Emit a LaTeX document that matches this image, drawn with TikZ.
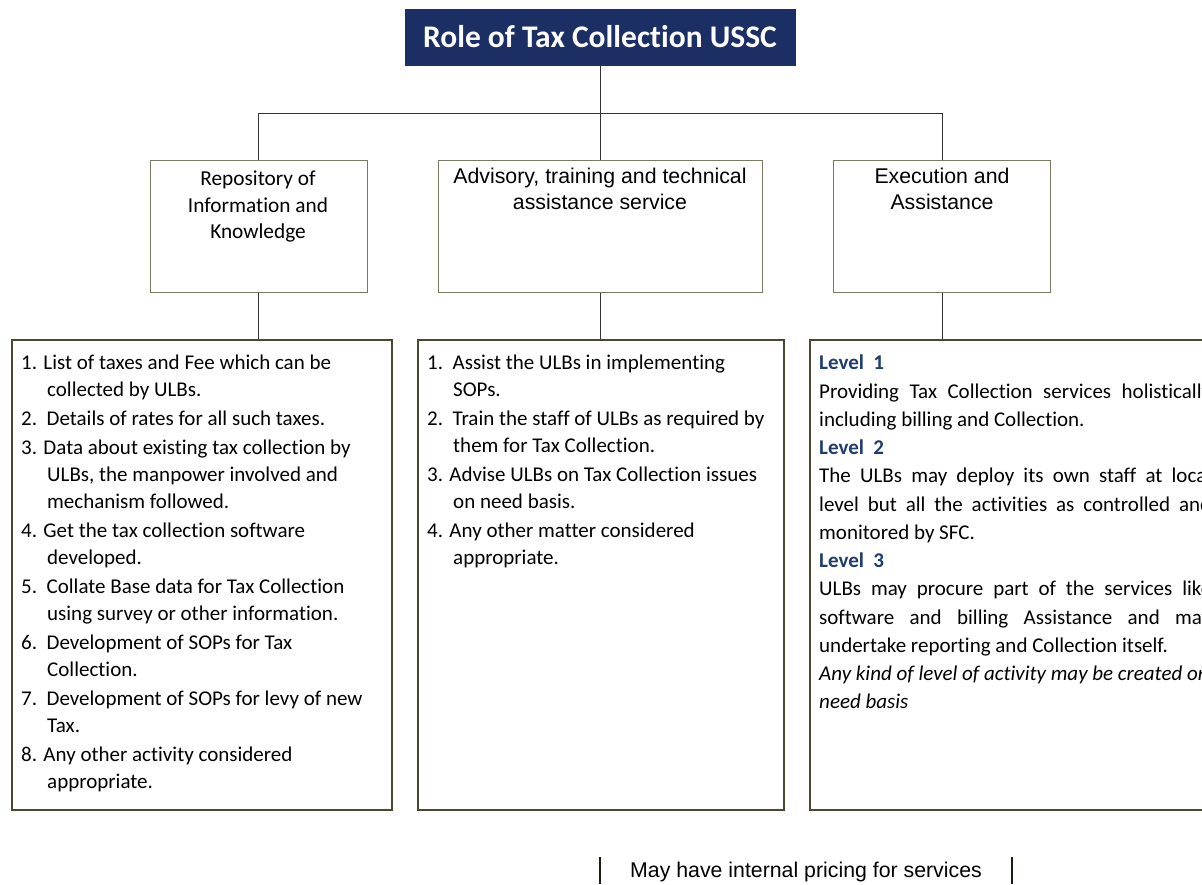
\documentclass[tikz,border=0pt]{standalone}
\usepackage{fontspec}
\setmainfont{Carlito}[Ligatures=NoCommon]
\newfontfamily\arialfont{Liberation Sans}
\definecolor{navy}{HTML}{1B2F64}
\definecolor{boxline}{HTML}{7A7A62}
\definecolor{heavyline}{HTML}{4A4830}
\definecolor{levelblue}{HTML}{1F3D6E}
\newcommand{\contline}{\hspace*{26pt}}
\newcommand{\lvl}[1]{{\bfseries\color{levelblue}#1}}
\begin{document}
\begin{tikzpicture}[x=1pt,y=-1pt,
  titlebox/.style={fill=navy, draw=navy, text=white, minimum width=390pt, minimum height=56pt,
    font={\fontsize{31.5}{36}\selectfont\bfseries}, inner sep=0pt},
  rolebox/.style={draw=boxline, line width=1.3pt, fill=white, anchor=north west, inner sep=0pt},
  listbox/.style={draw=heavyline, line width=2pt, fill=white, anchor=north west, inner sep=0pt},
  heading/.style={anchor=north, align=center, inner sep=0pt},
  listtext/.style={anchor=north west, align=left, inner sep=0pt},
  link/.style={draw=black!80, line width=1pt},
  bar/.style={draw=heavyline!80!green!30!black, line width=2pt}]
\useasboundingbox (0,0) rectangle (1202,884);
\fill[white] (0,0) rectangle (1202,884);

% title
\node[titlebox] (title) at (600,37) {Role of Tax Collection USSC};

% second level boxes
\node[rolebox, minimum width=217pt, minimum height=132pt] (r1) at (150,160) {};
\node[rolebox, minimum width=324pt, minimum height=132pt] (r2) at (438,160) {};
\node[rolebox, minimum width=217pt, minimum height=132pt] (r3) at (833,160) {};

\node[heading, font={\fontsize{21.3}{26.5}\selectfont}] (r1t) at (258,171)
  {Repository of\\Information and\\Knowledge};
\node[heading, font={\arialfont\fontsize{21.3}{26}\selectfont}] (r2t) at (600,168)
  {Advisory, training and technical\\assistance service};
\node[heading, font={\arialfont\fontsize{21.3}{26}\selectfont}] (r3t) at (942,168)
  {Execution and\\Assistance};

% third level boxes
\node[listbox, minimum width=380pt, minimum height=470pt] (l1) at (11,339) {};
\node[listbox, minimum width=366pt, minimum height=470pt] (l2) at (417,339) {};
\node[listbox, minimum width=415pt, minimum height=470pt] (l3) at (809,339) {};

% connectors
\coordinate (split) at (600,113);
\coordinate (left) at (258,113);
\coordinate (right) at (942,113);
\draw[link] (title.south) -- (split);
\draw[link] (left) -- (right);
\draw[link] (left) -- (left |- r1.north);
\draw[link] (split) -- (split |- r2.north);
\draw[link] (right) -- (right |- r3.north);
\draw[link] (r1.south -| left) -- (left |- l1.north);
\draw[link] (r2.south -| split) -- (split |- l2.north);
\draw[link] (r3.south -| right) -- (right |- l3.north);

% list contents
\node[listtext, font={\fontsize{21}{27}\selectfont}] (l1t) at (21,355) {%
1. List of taxes and Fee which can be\\
\contline collected by ULBs.\\[2pt]
2.\ \ Details of rates for all such taxes.\\[2pt]
3. Data about existing tax collection by\\
\contline ULBs, the manpower involved and\\
\contline mechanism followed.\\[2pt]
4. Get the tax collection software\\
\contline developed.\\[2pt]
5.\ \ Collate Base data for Tax Collection\\
\contline using survey or other information.\\[2pt]
6.\ \ Development of SOPs for Tax\\
\contline Collection.\\[2pt]
7.\ \ Development of SOPs for levy of new\\
\contline Tax.\\[2pt]
8. Any other activity considered\\
\contline appropriate.};

\node[listtext, font={\fontsize{21}{27}\selectfont}] (l2t) at (427,355) {%
1.\ \ Assist the ULBs in implementing\\
\contline SOPs.\\[2pt]
2.\ \ Train the staff of ULBs as required by\\
\contline them for Tax Collection.\\[2pt]
3. Advise ULBs on Tax Collection issues\\
\contline on need basis.\\[2pt]
4. Any other matter considered\\
\contline appropriate.};

\node[listtext, font={\fontsize{21}{28.25}\selectfont}] (l3t) at (819,355) {%
\lvl{Level\ \ 1}\\
\makebox[392pt][s]{Providing Tax Collection services holistically}\\
including billing and Collection.\\
\lvl{Level\ \ 2}\\
\makebox[392pt][s]{The ULBs may deploy its own staff at local}\\
\makebox[392pt][s]{level but all the activities as controlled and}\\
monitored by SFC.\\
\lvl{Level\ \ 3}\\
\makebox[392pt][s]{ULBs may procure part of the services like}\\
\makebox[392pt][s]{software and billing Assistance and may}\\
undertake reporting and Collection itself.\\
\textit{Any kind of level of activity may be created on}\\
\textit{need basis}};

% pricing note
\coordinate (barL) at (600,857);
\coordinate (barR) at (1012,857);
\draw[bar] (barL) -- ++(0,27);
\draw[bar] (barR) -- ++(0,27);
\node[font={\arialfont\fontsize{21.3}{25}\selectfont}, inner sep=0pt] (note) at (806,872)
  {May have internal pricing for services};
\end{tikzpicture}
\end{document}
